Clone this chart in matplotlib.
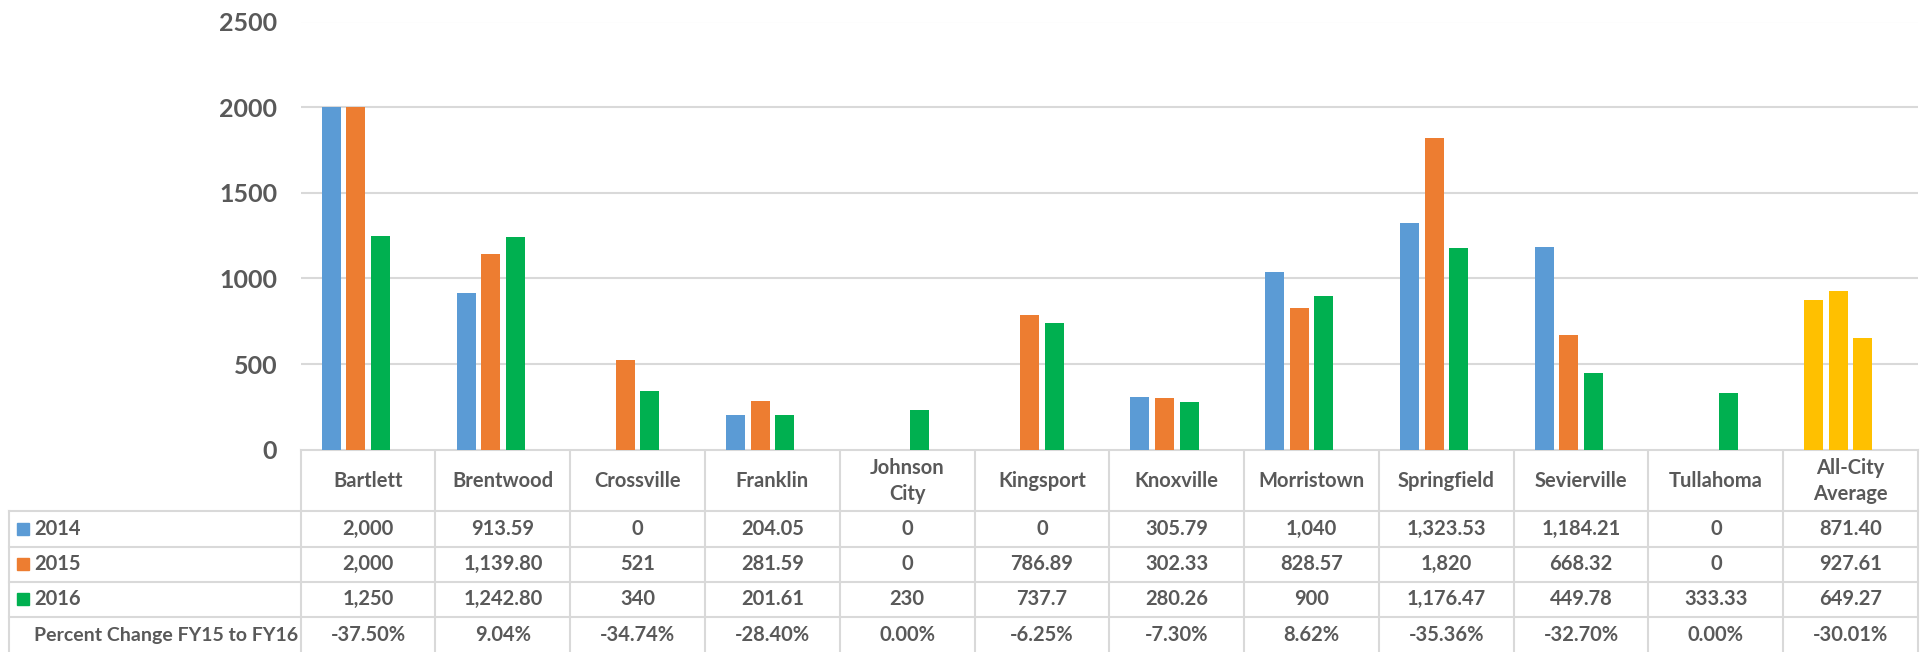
import numpy as np
import matplotlib
matplotlib.use("Agg")
import matplotlib.pyplot as plt
from matplotlib.patches import Rectangle

plt.rcParams['font.family'] = ['Lato', 'DejaVu Sans']

cities = ["Bartlett", "Brentwood", "Crossville", "Franklin", "Johnson\nCity",
          "Kingsport", "Knoxville", "Morristown", "Springfield", "Sevierville",
          "Tullahoma", "All-City\nAverage"]
fy2014 = ["2,000", "913.59", "0", "204.05", "0", "0", "305.79", "1,040",
          "1,323.53", "1,184.21", "0", "871.40"]
fy2015 = ["2,000", "1,139.80", "521", "281.59", "0", "786.89", "302.33",
          "828.57", "1,820", "668.32", "0", "927.61"]
fy2016 = ["1,250", "1,242.80", "340", "201.61", "230", "737.7", "280.26",
          "900", "1,176.47", "449.78", "333.33", "649.27"]
pct_change = ["-37.50%", "9.04%", "-34.74%", "-28.40%", "0.00%", "-6.25%",
              "-7.30%", "8.62%", "-35.36%", "-32.70%", "0.00%", "-30.01%"]
series_names = ["2014", "2015", "2016"]
series_text = [fy2014, fy2015, fy2016]
colors = ["#5B9BD5", "#ED7D31", "#00B050"]
avg_color = "#FFC000"
yticks = [0, 500, 1000, 1500, 2000, 2500]

txt = "#595959"
grid = "#D9D9D9"

W, H = 1927, 652
fig = plt.figure(figsize=(W / 100, H / 100), dpi=100)

# pixel layout
left, right = 300.7, 1918.0
top, base = 21.5, 449.7
ax = fig.add_axes([left / W, 1 - base / H, (right - left) / W, (base - top) / H])

n = len(cities)
x = np.arange(n)
slot = 0.182
bw = 0.141
# 4 slots per group (percent-change series is the invisible 4th)
for i, vals in enumerate(series_text):
    v = [float(s.replace(",", "")) for s in vals]
    cols = [colors[i]] * (n - 1) + [avg_color]
    ax.bar(x + (i - 1.5) * slot, v, width=bw, color=cols, zorder=3)

ax.set_xlim(-0.5, n - 0.5)
ax.set_ylim(0, 2500)
ax.set_yticks(yticks)
ax.set_yticklabels([str(t) for t in yticks])
ax.set_xticks([])
ax.tick_params(axis='y', length=0, pad=17, labelsize=18, labelcolor=txt)
for lab in ax.get_yticklabels():
    lab.set_fontweight('bold')
ax.grid(axis='y', color=grid, linewidth=1.5, zorder=0)
for s in ax.spines.values():
    s.set_visible(False)

# data table drawn in pixel coordinates
tb = fig.add_axes([0, 0, 1, 1], zorder=-1)
tb.set_xlim(0, W)
tb.set_ylim(H, 0)
tb.axis('off')

cw = (right - left) / n
row_lines = [511, 547, 582, 617]
bottom = H + 5
lc = dict(color=grid, linewidth=1.5)

tb.plot([left, right], [base, base], **lc)
for y in row_lines:
    tb.plot([9, right], [y, y], **lc)
for k in range(n + 1):
    tb.plot([left + k * cw] * 2, [base, bottom], **lc)
tb.plot([9, 9], [row_lines[0], bottom], **lc)

fs = 14.5
for k, name in enumerate(cities):
    cx = left + (k + 0.5) * cw
    tb.text(cx, 481, name, ha='center', va='center', fontsize=fs,
            color=txt, fontweight='bold', linespacing=1.35)

row_y = [529, 564, 599, 635]
for r, (name, vals) in enumerate(zip(series_names, series_text)):
    yc = row_y[r]
    tb.add_patch(Rectangle((17, yc - 6), 12, 12, color=colors[r]))
    tb.text(34, yc, name, ha='left', va='center', fontsize=fs,
            color=txt, fontweight='bold')
    for k, s in enumerate(vals):
        tb.text(left + (k + 0.5) * cw, yc, s, ha='center', va='center',
                fontsize=fs, color=txt, fontweight='bold')

tb.text(34, row_y[3], "Percent Change FY15 to FY16", ha='left', va='center',
        fontsize=fs - 0.5, color=txt, fontweight='bold')
for k, s in enumerate(pct_change):
    tb.text(left + (k + 0.5) * cw, row_y[3], s, ha='center', va='center',
            fontsize=fs, color=txt, fontweight='bold')

fig.savefig("out.png", dpi=100)
